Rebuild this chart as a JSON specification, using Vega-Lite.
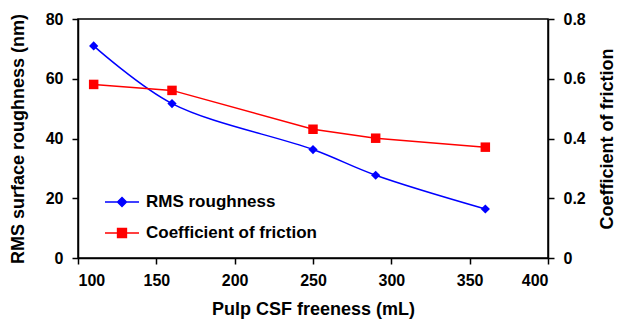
{
  "$schema": "https://vega.github.io/schema/vega-lite/v6.json",
  "width": 470,
  "height": 239,
  "autosize": "none",
  "padding": {"left": 78, "top": 19, "right": 71, "bottom": 66},
  "background": "white",
  "config": {
    "font": "Liberation Sans",
    "view": {"stroke": "black", "strokeWidth": 1.5},
    "axis": {
      "grid": false,
      "domainColor": "black",
      "domainWidth": 1.5,
      "tickColor": "black",
      "tickWidth": 1.5,
      "tickSize": 6,
      "labelFont": "Liberation Sans",
      "labelFontWeight": "bold",
      "labelFontSize": 16,
      "labelColor": "black",
      "titleFont": "Liberation Sans",
      "titleFontWeight": "bold",
      "titleFontSize": 18,
      "titleColor": "black"
    }
  },
  "data": {
    "values": [
      {"freeness": 110, "rms": 71.0, "cof": 0.581},
      {"freeness": 160, "rms": 51.7, "cof": 0.561},
      {"freeness": 250, "rms": 36.3, "cof": 0.431},
      {"freeness": 290, "rms": 27.7, "cof": 0.401},
      {"freeness": 360, "rms": 16.4, "cof": 0.371}
    ]
  },
  "encoding": {
    "x": {
      "field": "freeness",
      "type": "quantitative",
      "scale": {"domain": [100, 400], "nice": false},
      "axis": {"values": [100, 150, 200, 250, 300, 350, 400], "title": "Pulp CSF freeness (mL)", "labelPadding": 8, "titlePadding": 12}
    }
  },
  "layer": [
    {
      "encoding": {
        "y": {
          "field": "rms",
          "type": "quantitative",
          "scale": {"domain": [0, 80], "nice": false},
          "axis": {"orient": "left", "values": [0, 20, 40, 60, 80], "title": "RMS surface roughness (nm)", "labelPadding": 9, "titlePadding": 18}
        },
        "color": {
          "datum": "RMS roughness",
          "type": "nominal",
          "scale": {"domain": ["RMS roughness", "Coefficient of friction"], "range": ["#0000FF", "#FF0000"]},
          "legend": {
            "title": null,
            "orient": "none",
            "legendX": 26,
            "legendY": 165,
            "symbolSize": 1156,
            "symbolStrokeWidth": 1.5,
            "labelFont": "Liberation Sans",
            "labelFontWeight": "bold",
            "labelFontSize": 17,
            "labelColor": "black",
            "labelLimit": 400,
            "labelOffset": 6,
            "rowPadding": 5,
            "encode": {
              "symbols": {
                "update": {
                  "shape": {"signal": "datum.value == 'RMS roughness' ? 'M-1,0H1M0,-0.26L0.26,0L0,0.26L-0.26,0Z' : 'M-1,0H1M-0.26,-0.26H0.26V0.26H-0.26Z'"},
                  "strokeWidth": {"value": 1.5}
                }
              }
            }
          }
        }
      },
      "layer": [
        {"mark": {"type": "line", "interpolate": "catmull-rom", "strokeWidth": 1.5}},
        {"mark": {"type": "point", "shape": "diamond", "filled": true, "size": 85, "opacity": 1}}
      ]
    },
    {
      "encoding": {
        "y": {
          "field": "cof",
          "type": "quantitative",
          "scale": {"domain": [0, 0.8], "nice": false},
          "axis": {"orient": "right", "values": [0, 0.2, 0.4, 0.6, 0.8], "format": "~g", "title": "Coefficient of friction", "titleAngle": 270, "titleBaseline": "top", "labelPadding": 9, "titlePadding": 13}
        },
        "color": {"datum": "Coefficient of friction", "type": "nominal"}
      },
      "layer": [
        {"mark": {"type": "line", "interpolate": "linear", "strokeWidth": 1.5}},
        {"mark": {"type": "point", "shape": "square", "filled": true, "size": 90, "opacity": 1}}
      ]
    }
  ],
  "resolve": {"scale": {"y": "independent"}}
}
